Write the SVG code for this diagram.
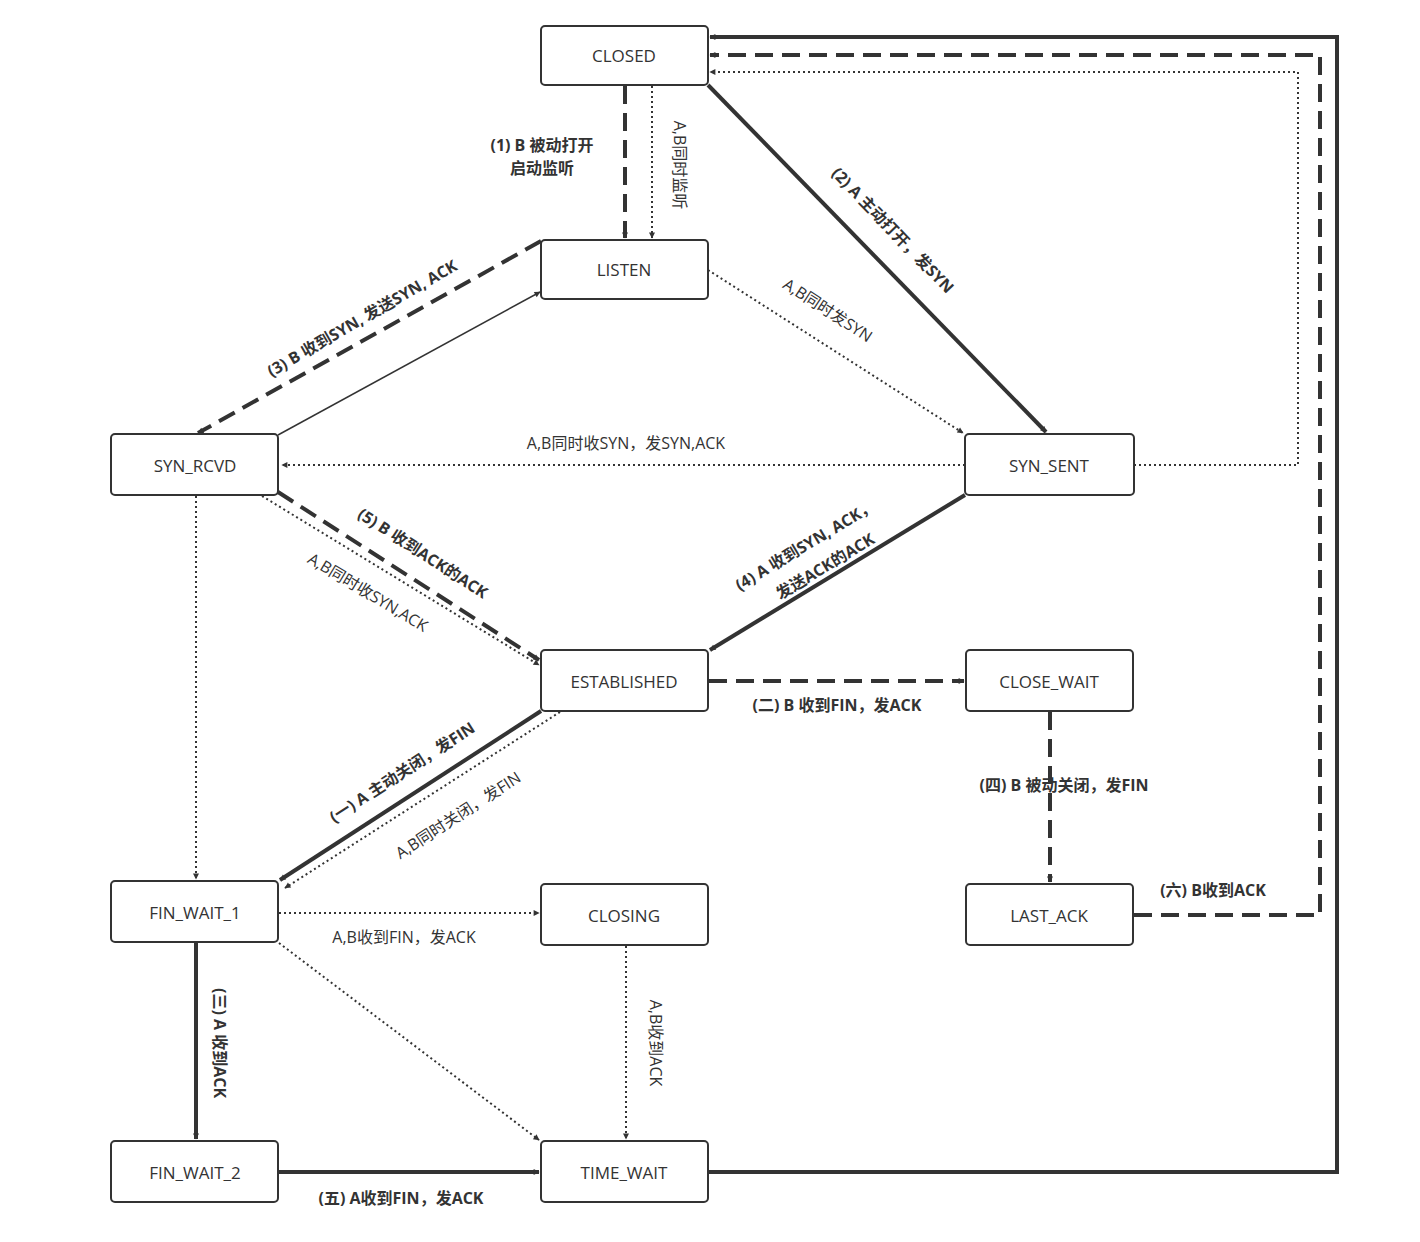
<svg xmlns="http://www.w3.org/2000/svg" width="1420" height="1242" viewBox="0 0 1420 1242">
<defs>
<marker id="a" viewBox="0 0 10 10" refX="9" refY="5" markerWidth="6" markerHeight="6" markerUnits="userSpaceOnUse" orient="auto" style="overflow:visible"><path d="M0,0 L10,5 L0,10 z" fill="#333"/></marker>
<marker id="ab" viewBox="0 0 10 10" refX="9" refY="5" markerWidth="5" markerHeight="5" orient="auto"><path d="M0,0 L10,5 L0,10 z" fill="#333"/></marker>
</defs>
<style>
.n rect{fill:#fff;stroke:#333;stroke-width:2}
.n text{font-family:"Open Sans","Liberation Sans",sans-serif;font-size:17px;fill:#333;text-anchor:middle;dominant-baseline:central}
.e path{fill:none;stroke:#333}
.thick{stroke-width:4}
.dash{stroke-width:4;stroke-dasharray:18 9}
.dot{stroke-width:2;stroke-dasharray:2 3}
.thin{stroke-width:1.5}
.lb{font-family:"Open Sans","Noto Sans CJK SC",sans-serif;font-size:16px;font-weight:bold;fill:#333;text-anchor:middle;dominant-baseline:central}
.ln{font-family:"Open Sans","Noto Sans CJK SC",sans-serif;font-size:16px;fill:#333;text-anchor:middle;dominant-baseline:central}
</style>
<rect width="1420" height="1242" fill="#fff"/>
<g class="e">
<path class="dash" d="M625,86 V238" marker-end="url(#a)" style="stroke-width:4"/>
<path class="dot" d="M652,86 V238" marker-end="url(#a)"/>
<path class="thick" d="M708,85 L1046,432" marker-end="url(#a)"/>
<path class="dot" d="M708,270 L963,433" marker-end="url(#a)"/>
<path class="dash" d="M541,241 L198,433" marker-end="url(#a)"/>
<path class="thin" d="M278,435 L540,292" marker-end="url(#a)"/>
<path class="dot" d="M965,465 H282" marker-end="url(#a)"/>
<path class="dot" d="M1134,465 H1298 V72 H710" marker-end="url(#a)"/>
<path class="dash" d="M278,492 L539,660" marker-end="url(#a)"/>
<path class="dot" d="M262,496 L539,665" marker-end="url(#a)"/>
<path class="thick" d="M965,495 L710,650" marker-end="url(#a)"/>
<path class="dot" d="M196,496 V879" marker-end="url(#a)"/>
<path class="dash" d="M709,681 H964" marker-end="url(#a)"/>
<path class="thick" d="M541,711 L280,880" marker-end="url(#a)"/>
<path class="dot" d="M560,712 L285,888" marker-end="url(#a)"/>
<path class="dash" d="M1050,712 V882" marker-end="url(#a)"/>
<path class="dash" d="M1134,915 H1320 V55 H710" marker-end="url(#a)"/>
<path class="dot" d="M279,913 H539" marker-end="url(#a)"/>
<path class="dot" d="M279,943 L539,1140" marker-end="url(#a)"/>
<path class="thick" d="M196,943 V1139" marker-end="url(#a)"/>
<path class="dot" d="M626,946 V1139" marker-end="url(#a)"/>
<path class="thick" d="M279,1172 H539" marker-end="url(#a)"/>
<path class="thick" d="M708,1172 H1337 V37 H710" marker-end="url(#a)"/>
</g>
<g id="labels">
<text class="lb" x="542" y="145">(1) B 被动打开</text>
<text class="lb" x="542" y="168">启动监听</text>
<text class="ln" transform="translate(680,165) rotate(90)">A,B同时监听</text>
<text class="lb" transform="translate(893,230) rotate(46)">(2) A 主动打开，发SYN</text>
<text class="ln" transform="translate(828,310) rotate(33)">A,B同时发SYN</text>
<text class="lb" transform="translate(362,318) rotate(-30)">(3) B 收到SYN, 发送SYN, ACK</text>
<text class="ln" x="626" y="443">A,B同时收SYN，发SYN,ACK</text>
<text class="lb" transform="translate(423,553) rotate(33)">(5) B 收到ACK的ACK</text>
<text class="ln" transform="translate(368,592) rotate(31)">A,B同时收SYN,ACK</text>
<text class="lb" transform="translate(805,545) rotate(-31)">(4) A 收到SYN, ACK，</text>
<text class="lb" transform="translate(825,566) rotate(-31)">发送ACK的ACK</text>
<text class="lb" x="837" y="705">(二) B 收到FIN，发ACK</text>
<text class="lb" transform="translate(402,772) rotate(-33)">(一) A 主动关闭，发FIN</text>
<text class="ln" transform="translate(458,815) rotate(-33)">A,B同时关闭，发FIN</text>
<text class="lb" x="1064" y="785">(四) B 被动关闭，发FIN</text>
<text class="lb" x="1213" y="890">(六) B收到ACK</text>
<text class="ln" x="404" y="937">A,B收到FIN，发ACK</text>
<text class="lb" transform="translate(220,1043) rotate(90)">(三) A 收到ACK</text>
<text class="ln" transform="translate(656,1043) rotate(90)">A,B收到ACK</text>
<text class="lb" x="401" y="1198">(五) A收到FIN，发ACK</text>
</g>
<g id="CLOSED" class="n"><rect x="541" y="26" width="167" height="59" rx="4"/><text x="624" y="55">CLOSED</text></g>
<g id="LISTEN" class="n"><rect x="541" y="240" width="167" height="59" rx="4"/><text x="624" y="269">LISTEN</text></g>
<g id="SYN_RCVD" class="n"><rect x="111" y="434" width="167" height="61" rx="4"/><text x="195" y="465">SYN_RCVD</text></g>
<g id="SYN_SENT" class="n"><rect x="965" y="434" width="169" height="61" rx="4"/><text x="1049" y="465">SYN_SENT</text></g>
<g id="ESTABLISHED" class="n"><rect x="541" y="650" width="167" height="61" rx="4"/><text x="624" y="681">ESTABLISHED</text></g>
<g id="CLOSE_WAIT" class="n"><rect x="966" y="650" width="167" height="61" rx="4"/><text x="1049" y="681">CLOSE_WAIT</text></g>
<g id="FIN_WAIT_1" class="n"><rect x="111" y="881" width="167" height="61" rx="4"/><text x="195" y="912">FIN_WAIT_1</text></g>
<g id="CLOSING" class="n"><rect x="541" y="884" width="167" height="61" rx="4"/><text x="624" y="915">CLOSING</text></g>
<g id="LAST_ACK" class="n"><rect x="966" y="884" width="167" height="61" rx="4"/><text x="1049" y="915">LAST_ACK</text></g>
<g id="FIN_WAIT_2" class="n"><rect x="111" y="1141" width="167" height="61" rx="4"/><text x="195" y="1172">FIN_WAIT_2</text></g>
<g id="TIME_WAIT" class="n"><rect x="541" y="1141" width="167" height="61" rx="4"/><text x="624" y="1172">TIME_WAIT</text></g>
</svg>
